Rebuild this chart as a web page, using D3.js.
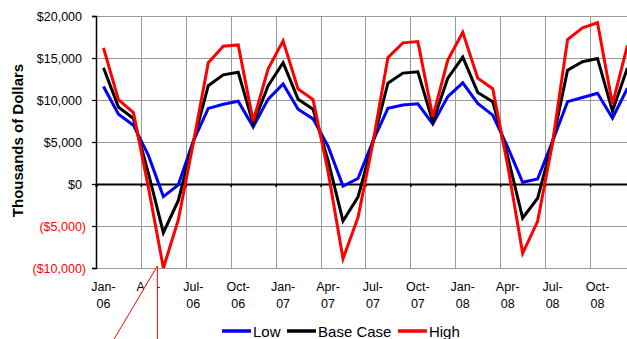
<!DOCTYPE html>
<html>
<head>
<meta charset="utf-8">
<script src="https://cdn.jsdelivr.net/npm/d3@7"></script>
<style>
  html, body { margin: 0; padding: 0; background: #fff; }
  svg { display: block; font-family: Arial, "Liberation Sans", sans-serif; }
</style>
</head>
<body>
<svg id="chart" width="627" height="339"></svg>
<script>
// Monthly cash-flow scenarios, thousands of dollars
const months = [
  "Jan-06","Feb-06","Mar-06","Apr-06","May-06","Jun-06","Jul-06","Aug-06","Sep-06","Oct-06","Nov-06","Dec-06",
  "Jan-07","Feb-07","Mar-07","Apr-07","May-07","Jun-07","Jul-07","Aug-07","Sep-07","Oct-07","Nov-07","Dec-07",
  "Jan-08","Feb-08","Mar-08","Apr-08","May-08","Jun-08","Jul-08","Aug-08","Sep-08","Oct-08","Nov-08","Dec-08"
];
const lowValues = [
  11600, 8300, 7000, 3400, -1500, -100, 5100, 9000, 9500, 9850, 6800, 10100,
  11900, 8900, 7750, 4500, -250, 650, 5100, 9000, 9400, 9550, 7150, 10400,
  12050, 9600, 8200, 4400, 200, 600, 5100, 9800, 10300, 10800, 7850, 11400
];
const baseValues = [
  13850, 9150, 7800, 1300, -5800, -1950, 5000, 11700, 13000, 13300, 7150, 11700,
  14450, 10100, 8900, 2800, -4400, -1550, 5000, 12000, 13200, 13350, 7400, 12600,
  15100, 10900, 9800, 3300, -4050, -1700, 5000, 13550, 14550, 14950, 8700, 13800
];
const highValues = [
  16200, 10050, 8500, -400, -10000, -4250, 4900, 14450, 16400, 16550, 7500, 13700,
  17050, 11300, 10050, 1500, -8900, -4000, 4900, 15050, 16800, 16950, 8000, 14750,
  18050, 12600, 11350, 2200, -8250, -4450, 4900, 17200, 18600, 19200, 9500, 16500
];
const seriesNames = ["Low", "Base Case", "High"];
const seriesColors = ["#0000ff", "#000000", "#ff0000"];
const yTicks = [-10000, -5000, 0, 5000, 10000, 15000, 20000];
const axisTitle = "Thousands of Dollars";

const series = [lowValues, baseValues, highValues].map((vals, k) => ({
  name: seriesNames[k], color: seriesColors[k], values: vals
}));

const svg = d3.select("#chart");
const plot = { left: 96, top: 16, bottom: 268, monthW: 14.97 };
plot.right = plot.left + months.length * plot.monthW;

const x = d3.scaleBand().domain(months).range([plot.left, plot.right]).padding(0);
const xc = m => x(m) + x.bandwidth() / 2;
const xIdx = d3.scaleLinear().domain([0, months.length]).range([plot.left, plot.right]);
const y = d3.scaleLinear().domain([-10000, 20000]).range([plot.bottom, plot.top]);

const quarterStarts = d3.range(0, months.length + 1, 3);

// gridlines
const grid = svg.append("g");
grid.selectAll("line.h").data(yTicks).join("line")
  .attr("x1", plot.left).attr("x2", plot.right)
  .attr("y1", d => Math.round(y(d)) + 0.5).attr("y2", d => Math.round(y(d)) + 0.5)
  .attr("stroke", "#999").attr("stroke-width", 1);
grid.selectAll("line.v").data(quarterStarts.filter(i => i > 0)).join("line")
  .attr("x1", d => Math.round(xIdx(d)) + 0.5).attr("x2", d => Math.round(xIdx(d)) + 0.5)
  .attr("y1", plot.top).attr("y2", plot.bottom)
  .attr("stroke", "#999").attr("stroke-width", 1);

// y axis
const yFmt = d3.format("($,.0f");
const yAxis = svg.append("g")
  .attr("transform", `translate(${plot.left},0)`)
  .call(d3.axisLeft(y).tickValues(yTicks).tickSize(4).tickPadding(10).tickFormat(yFmt));
yAxis.select(".domain").attr("stroke", "#000").attr("stroke-width", 1.5);
yAxis.selectAll(".tick line").attr("stroke", "#000").attr("stroke-width", 1.2);
yAxis.selectAll(".tick text")
  .attr("font-size", 12.5)
  .attr("font-family", "Arial, 'Liberation Sans', sans-serif")
  .attr("fill", d => d < 0 ? "#ff0000" : "#000")
  .attr("dx", d => d < 0 ? 4 : 0);

// zero axis with quarter ticks
const xAxis = svg.append("g")
  .attr("transform", `translate(0,${y(0)})`)
  .call(d3.axisBottom(xIdx).tickValues(quarterStarts).tickSize(3).tickFormat(""));
xAxis.select(".domain").attr("stroke", "#000").attr("stroke-width", 2);
xAxis.selectAll(".tick line").attr("stroke", "#000").attr("stroke-width", 1.5);

// month labels (every quarter), two lines
const labels = svg.append("g").attr("font-size", 12.5).attr("fill", "#000")
  .attr("text-anchor", "middle");
const labelMonths = months.filter((m, i) => i % 3 === 0);
const lt = labels.selectAll("text").data(labelMonths).join("text")
  .attr("x", d => xc(d)).attr("y", 290.5);
lt.append("tspan").attr("x", d => xc(d)).text(d => d.split("-")[0] + "-");
lt.append("tspan").attr("x", d => xc(d)).attr("dy", 17).text(d => d.split("-")[1]);

// series lines
const line = d3.line().x((d, i) => xc(months[i])).y(d => y(d));
svg.append("g").selectAll("path").data(series).join("path")
  .attr("d", s => line(s.values))
  .attr("fill", "none")
  .attr("stroke", s => s.color)
  .attr("stroke-width", 3)
  .attr("stroke-linejoin", "miter");

// callout pointer aimed at the May-06 trough
const tipX = xc("May-06") - 6, tipY = y(-10000) - 2;
svg.append("path")
  .attr("d", `M${tipX},${tipY} L${tipX - 45},${tipY + 76} L${tipX},${tipY + 76} Z`)
  .attr("fill", "#fff").attr("stroke", "#ff0000").attr("stroke-width", 1);

// y axis title
svg.append("text")
  .attr("transform", "translate(22.5,140.5) rotate(-90)")
  .attr("text-anchor", "middle")
  .attr("font-size", 15).attr("font-weight", "bold").attr("fill", "#000")
  .text(axisTitle);

// legend
const legend = svg.append("g").attr("font-size", 15).attr("fill", "#000");
let lx = 222;
const ly = 331;
series.forEach(s => {
  legend.append("line")
    .attr("x1", lx).attr("x2", lx + 29).attr("y1", ly).attr("y2", ly)
    .attr("stroke", s.color).attr("stroke-width", 3.5);
  const t = legend.append("text").attr("x", lx + 31).attr("y", ly + 5.5).text(s.name);
  lx += 31 + t.node().getComputedTextLength() + 6.5;
});
</script>
</body>
</html>
